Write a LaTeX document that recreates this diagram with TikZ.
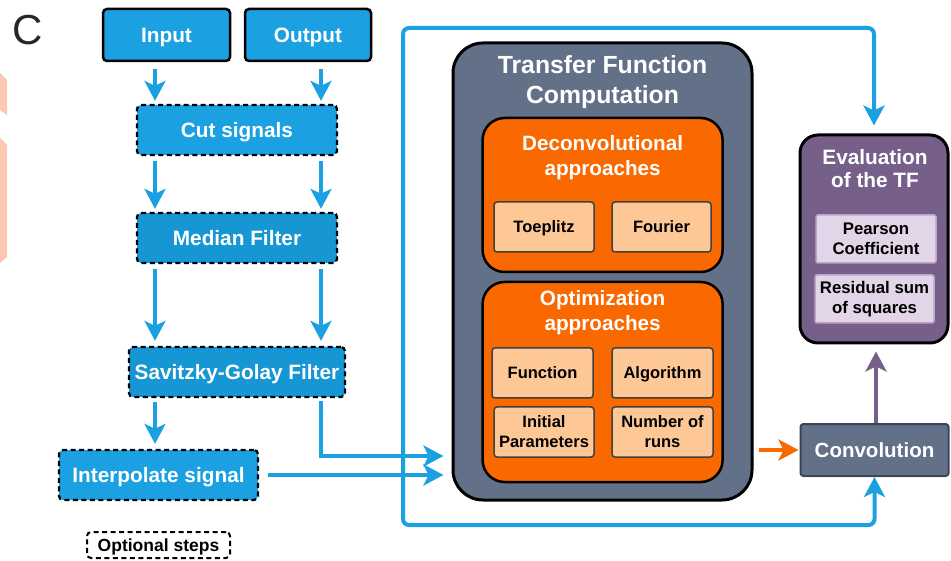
\documentclass[tikz,border=0pt]{standalone}
\usepackage{fontspec}
\setmainfont{Liberation Sans}
\usetikzlibrary{arrows.meta,calc}
\definecolor{cblue}{HTML}{1BA1E2}
\definecolor{cblued}{HTML}{1697D3}
\definecolor{cslate}{HTML}{627088}
\definecolor{corange}{HTML}{FA6800}
\definecolor{cpeach}{HTML}{FDC896}
\definecolor{cpurple}{HTML}{76608A}
\definecolor{clav}{HTML}{E1D5E7}
\definecolor{clavb}{HTML}{BBA5CC}
\definecolor{csalmon}{HTML}{FBC9B2}
\definecolor{cconvb}{HTML}{3A4657}
\begin{document}
\begin{tikzpicture}[x=1pt,y=-1pt,
  base/.style={inner sep=0pt, align=center, text=white, font=\bfseries\fontsize{20.8}{25}\selectfont},
  oneline/.style={text height=14.9pt, text depth=0pt},
  solidbox/.style={base, oneline, fill=cblue, draw=black, line width=2.5pt, rounded corners=4pt},
  dashbox/.style={base, oneline, fill=#1, draw=black, line width=2.3pt, dash pattern=on 5pt off 3.5pt, rounded corners=4pt},
  tfbox/.style={base, fill=cslate, draw=black, line width=3pt, rounded corners=30pt},
  appbox/.style={base, fill=corange, draw=black, line width=2.5pt, rounded corners=22pt},
  peach/.style={base, text=black, fill=cpeach, draw=black!75, line width=1.5pt, rounded corners=3pt, font=\bfseries\fontsize{16.5}{20}\selectfont},
  peachone/.style={peach, text height=11.8pt, text depth=0pt},
  evalbox/.style={base, fill=cpurple, draw=black, line width=3pt, rounded corners=18pt},
  lav/.style={base, text=black, fill=clav, draw=clavb, line width=1.5pt, rounded corners=2pt, font=\bfseries\fontsize{16.8}{20}\selectfont},
  convbox/.style={base, oneline, fill=cslate, draw=cconvb, line width=2pt, rounded corners=3pt, font=\bfseries\fontsize{20.5}{25}\selectfont},
  titletext/.style={text=white, inner sep=0pt, align=center},
  tip/.style={-{Stealth[length=20pt,width=21pt,inset=5pt]}},
  barrow/.style={cblue, line width=4pt, tip},
  oarrow/.style={corange, line width=4pt, tip},
  parrow/.style={cpurple, line width=4pt, tip}
]
\useasboundingbox (0,0) rectangle (951,561);
\fill[csalmon] (0,73) -- (7,80) -- (7,115) -- (0,110) -- cycle;
\fill[csalmon] (0,138) -- (7,145) -- (7,257) -- (0,263) -- cycle;
\node[inner sep=0pt, text=black!85, font=\fontsize{42}{42}\selectfont] (lbl) at (28,30) {C};

% left column
\node[solidbox, minimum width=127pt, minimum height=52pt] (input) at (166.5,35) {Input};
\node[solidbox, minimum width=126pt, minimum height=52pt] (output) at (308,35) {Output};
\node[dashbox=cblue, minimum width=200pt, minimum height=50pt] (cut) at (237,130) {Cut signals};
\node[dashbox=cblued, minimum width=200pt, minimum height=50pt] (median) at (237,238) {Median Filter};
\node[dashbox=cblued, minimum width=216pt, minimum height=50pt] (sg) at (237,372) {Savitzky-Golay Filter};
\node[dashbox=cblue, minimum width=199pt, minimum height=50pt] (interp) at (158.5,475) {Interpolate signal};
\node[dashbox=white, text=black, line width=2pt, minimum width=143pt, minimum height=26pt, text height=12.6pt, font=\bfseries\fontsize{17.5}{20}\selectfont] (optional) at (158.5,545) {Optional steps};

\coordinate (xl) at (155,0);
\coordinate (xr) at (321,0);

% transfer function block
\node[tfbox, minimum width=299pt, minimum height=457pt] (tf) at (602.5,271.5) {};
\node[titletext, font=\bfseries\fontsize{24.8}{30}\selectfont] (tftitle) at (602.5,82) {Transfer Function\\Computation};
\node[appbox, minimum width=240pt, minimum height=154pt] (deconv) at (602.6,195) {};
\node[titletext, font=\bfseries\fontsize{20.7}{25}\selectfont] (dectitle) at (602.6,157.5) {Deconvolutional\\approaches};
\node[peachone, minimum width=100pt, minimum height=50pt] (toep) at (544,227) {Toeplitz};
\node[peachone, minimum width=99pt, minimum height=50pt] (four) at (661.5,227) {Fourier};
\node[appbox, minimum width=240pt, minimum height=200pt] (optim) at (602.6,382) {};
\node[titletext, font=\bfseries\fontsize{20.7}{25}\selectfont] (opttitle) at (602.6,312.5) {Optimization\\approaches};
\node[peachone, minimum width=101pt, minimum height=50pt] (func) at (542.5,373) {Function};
\node[peachone, minimum width=101pt, minimum height=50pt] (algo) at (662.5,373) {Algorithm};
\node[peach, minimum width=100pt, minimum height=50pt] (init) at (544,432) {Initial\\Parameters};
\node[peach, minimum width=101pt, minimum height=50pt] (runs) at (662.5,432) {Number of\\runs};

% evaluation
\node[evalbox, minimum width=148pt, minimum height=208pt] (eval) at (874,239) {};
\node[titletext, font=\bfseries\fontsize{20.8}{23}\selectfont] (evaltitle) at (875,168.5) {Evaluation\\of the TF};
\node[lav, minimum width=120pt, minimum height=48pt] (pear) at (876,239) {Pearson\\Coefficient};
\node[lav, minimum width=119pt, minimum height=48pt] (rss) at (874.5,299) {Residual sum\\of squares};
\node[convbox, minimum width=148pt, minimum height=52pt] (conv) at (874.5,450) {Convolution};

% connectors
\coordinate (jn) at (403,456);
\draw[barrow, rounded corners=6pt, shorten >=8pt] (jn) -- (403,28) -| (eval.north);
\draw[barrow, rounded corners=6pt] (jn) -- (403,525) -| (conv.south);

\draw[barrow, shorten <=7pt, shorten >=3pt] (input.south -| xl) -- (cut.north -| xl);
\draw[barrow, shorten <=7pt, shorten >=3pt] (output.south -| xr) -- (cut.north -| xr);
\draw[barrow, shorten <=5pt, shorten >=3pt] (cut.south -| xl) -- (median.north -| xl);
\draw[barrow, shorten <=5pt, shorten >=3pt] (cut.south -| xr) -- (median.north -| xr);
\draw[barrow, shorten <=5pt, shorten >=5pt] (median.south -| xl) -- (sg.north -| xl);
\draw[barrow, shorten <=5pt, shorten >=5pt] (median.south -| xr) -- (sg.north -| xr);
\draw[barrow, shorten <=4pt, shorten >=5pt] (sg.south -| xl) -- (interp.north -| xl);
\draw[barrow, shorten <=3pt, shorten >=8pt] (sg.south -| xr) |- (tf.west |- jn);
\draw[barrow, shorten <=9pt, shorten >=8pt] (interp.east) -- (tf.west |- interp.east);

\draw[oarrow, shorten <=5pt, shorten >=1pt] (tf.east |- conv.west) -- (conv.west);
\draw[parrow, shorten >=7pt] (conv.north -| 876,0) -- (eval.south -| 876,0);
\end{tikzpicture}
\end{document}
